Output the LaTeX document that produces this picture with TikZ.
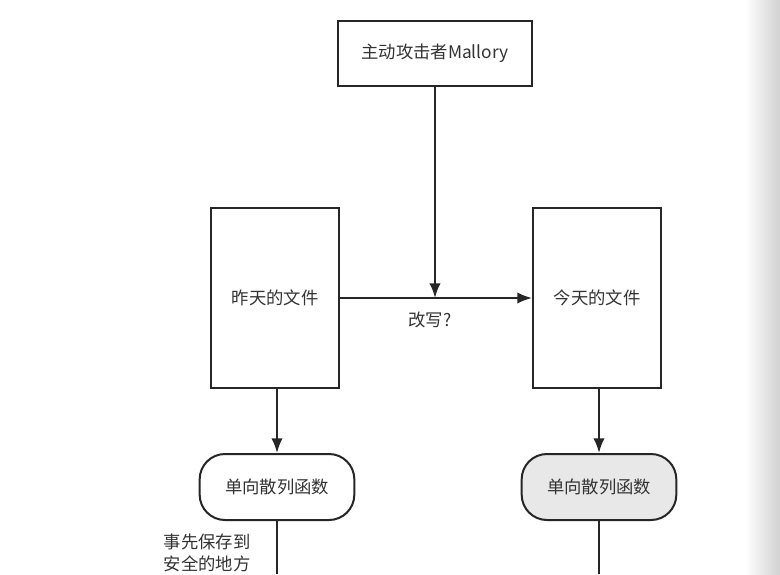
\documentclass[tikz,border=0pt]{standalone}
\usepackage{fontspec}
\setmainfont{Noto Sans CJK SC}
\usetikzlibrary{arrows.meta}

\begin{document}
\begin{tikzpicture}[x=0.75pt,y=-0.75pt,
  every node/.style={font=\fontsize{13}{16}\selectfont, text=black!80},
  filebox/.style={draw=black!85, line width=1.5pt, inner sep=0pt},
  hashbox/.style={draw=black!85, line width=1.5pt, rounded corners=19pt, inner sep=0pt,
    minimum width=116pt, minimum height=49.5pt},
  link/.style={draw=black!85, line width=1.5pt},
  arr/.style={link, -{Latex[length=11pt,width=8.5pt]}}]
\useasboundingbox (0,0) rectangle (780,574);
\fill[white] (0,0) rectangle (780,574);
\shade[left color=white, right color=black!18] (745,0) rectangle (780,574);
% attacker
\node[filebox, minimum width=145.5pt, minimum height=48.75pt] (mallory) at (435,53.5) {主动攻击者Mallory};
% files
\node[filebox, minimum width=96pt, minimum height=135pt] (old) at (275,298) {昨天的文件};
\node[filebox, minimum width=96pt, minimum height=135pt] (new) at (597,298) {今天的文件};
\coordinate (hit) at (435,298);
\draw[arr] (old) -- (new);
\draw[arr] (mallory) -- (hit);
\node (rewrite) at (430,320) {改写?};
% hash functions
\node[hashbox] (hashold) at (277,487) {单向散列函数};
\node[hashbox, fill=black!9] (hashnew) at (599,487) {单向散列函数};
\draw[arr] (old.south -| hashold) -- (hashold);
\draw[arr] (new.south -| hashnew) -- (hashnew);
\coordinate (endold) at (277,574);
\coordinate (endnew) at (599,574);
\draw[link] (hashold) -- (endold);
\draw[link] (hashnew) -- (endnew);
\node[align=left, anchor=west] (safe) at (159,553) {事先保存到\\安全的地方};
\end{tikzpicture}
\end{document}
